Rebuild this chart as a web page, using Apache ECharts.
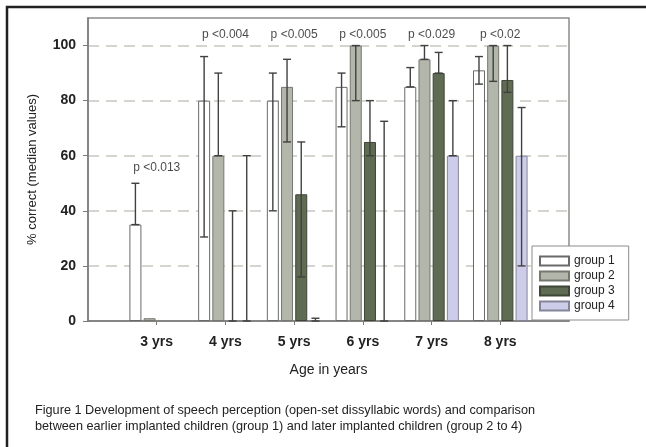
<!DOCTYPE html>
<html>
<head>
<meta charset="utf-8">
<script src="https://cdn.jsdelivr.net/npm/echarts@6/dist/echarts.min.js"></script>
<style>
html,body{margin:0;padding:0;background:#fff;}
#chart{width:646px;height:447px;}
</style>
</head>
<body>
<div id="chart"></div>
<script>
// ---- data ----
const categories = ['3 yrs', '4 yrs', '5 yrs', '6 yrs', '7 yrs', '8 yrs'];
const groupNames = ['group 1', 'group 2', 'group 3', 'group 4'];
// medians (null = no bar)
const g1Median = [35, 80, 80, 85, 85, 91];
const g2Median = [1, 60, 85, 100, 95, 100];
const g3Median = [null, null, 46, 65, 90, 87.5];
const g4Median = [null, null, null, null, 60, 60];
// error range lows / highs (null = no error bar)
const g1Low  = [35, 30.5, 40, 70.5, 85, 86];
const g1High = [50, 96, 90, 90, 92, 96];
const g2Low  = [null, 60, 65, 80, 95, 87];
const g2High = [null, 90, 95, 100, 100, 100];
const g3Low  = [null, 0, 16, 60, 90, 83];
const g3High = [null, 40, 65, 80, 97.5, 100];
const g4Low  = [null, 0, 0, 0, 60, 20];
const g4High = [null, 60, 1, 72.5, 80, 77.5];
const pLabels = ['p <0.013', 'p <0.004', 'p <0.005', 'p <0.005', 'p <0.029', 'p <0.02'];
const yTicks = [0, 20, 40, 60, 80, 100];

// ---- build ----
const medians = [g1Median, g2Median, g3Median, g4Median];
const lows = [g1Low, g2Low, g3Low, g4Low];
const highs = [g1High, g2High, g3High, g4High];
const fills = ['#ffffff', '#b3b7ab', '#5f6b53', '#cdcdea'];
const borders = ['#6a6a6a', '#75786f', '#3e4636', '#85859a'];
const xCats = [''].concat(categories, ['']);
const BAR_W = 12, GAP = 2.2;
const step = BAR_W + GAP;
const total = 4 * BAR_W + 3 * GAP;

const series = [];
groupNames.forEach((name, gi) => {
  series.push({
    name: name,
    type: 'bar',
    barWidth: BAR_W,
    barGap: (GAP / BAR_W * 100) + '%',
    itemStyle: { color: fills[gi], borderColor: borders[gi], borderWidth: 1 },
    data: [null].concat(medians[gi], [null]),
    z: 2
  });
});
groupNames.forEach((name, gi) => {
  const data = [];
  categories.forEach((c, i) => {
    if (lows[gi][i] != null && highs[gi][i] != null && highs[gi][i] > lows[gi][i]) {
      data.push([i + 1, lows[gi][i], highs[gi][i]]);
    }
  });
  const offset = -total / 2 + BAR_W / 2 + gi * step;
  series.push({
    type: 'custom',
    name: name + ' err',
    z: 5,
    silent: true,
    legendHoverLink: false,
    data: data,
    encode: { x: 0, y: [1, 2] },
    renderItem: function (params, api) {
      const cx = api.coord([api.value(0), 0])[0] + offset;
      const yl = api.coord([api.value(0), api.value(1)])[1];
      const yh = api.coord([api.value(0), api.value(2)])[1];
      const st = { stroke: '#404040', lineWidth: 1.4 };
      const cap = 4;
      return {
        type: 'group',
        children: [
          { type: 'line', shape: { x1: cx, y1: yl, x2: cx, y2: yh }, style: st },
          { type: 'line', shape: { x1: cx - cap, y1: yh, x2: cx + cap, y2: yh }, style: st },
          { type: 'line', shape: { x1: cx - cap, y1: yl, x2: cx + cap, y2: yl }, style: st }
        ]
      };
    }
  });
});
// p-value labels placed above each cluster
const pData = categories.map((c, i) => {
  const mx = Math.max.apply(null, highs.map(h => h[i] == null ? 0 : h[i]));
  const y = mx >= 90 ? 104 : mx + 5.5;
  return { value: [i + 1, y], name: pLabels[i] };
});
series.push({
  type: 'scatter',
  symbolSize: 0,
  silent: true,
  z: 6,
  data: pData,
  label: {
    show: true,
    position: 'inside',
    formatter: p => p.name,
    color: '#1a1a1a',
    fontSize: 12,
    fontFamily: 'Liberation Sans, Arial, sans-serif'
  }
});

const chart = echarts.init(document.getElementById('chart'), null, { renderer: 'canvas' });
chart.setOption({
  backgroundColor: '#ffffff',
  animation: false,
  textStyle: { fontFamily: 'Liberation Sans, Arial, sans-serif' },
  grid: { left: 88, right: 77, top: 18, bottom: 126, show: true, borderColor: '#8c8c8c', borderWidth: 1.5, backgroundColor: 'transparent' },
  legend: {
    orient: 'vertical',
    left: 532,
    top: 246,
    data: groupNames,
    icon: 'rect',
    itemWidth: 29,
    itemHeight: 9,
    itemGap: 3,
    padding: [9, 14, 8, 7],
    backgroundColor: '#ffffff',
    borderColor: '#8c8c8c',
    borderWidth: 1,
    textStyle: { fontSize: 12, color: '#222' },
    selectedMode: false,
    z: 10
  },
  xAxis: {
    type: 'category',
    data: xCats,
    boundaryGap: false,
    name: 'Age in years',
    nameLocation: 'middle',
    nameGap: 42,
    nameTextStyle: { fontSize: 14, color: '#222' },
    axisLine: { lineStyle: { color: '#7a7a7a', width: 1.5 } },
    axisTick: { show: true, length: 4, interval: function (i) { return i > 0 && i < xCats.length - 1; }, lineStyle: { color: '#7a7a7a' } },
    axisLabel: { interval: 0, margin: 14, fontSize: 14, fontWeight: 'bold', color: '#222' },
    splitLine: { show: false }
  },
  yAxis: {
    type: 'value',
    min: 0,
    max: 110,
    interval: 20,
    name: '% correct (median values)',
    nameLocation: 'middle',
    nameGap: 49,
    nameTextStyle: { fontSize: 13, color: '#222' },
    axisLine: { show: true, lineStyle: { color: '#7a7a7a', width: 1.5 } },
    axisTick: { show: true, length: 5, customValues: yTicks, lineStyle: { color: '#7a7a7a' } },
    axisLabel: { customValues: yTicks, margin: 12, fontSize: 14, fontWeight: 'bold', color: '#222',
      formatter: v => (v > 100 ? '' : String(v)) },
    splitLine: { show: true, showMinLine: false, showMaxLine: true, lineStyle: { color: '#c6c8c0', width: 1.5, type: [11, 7] } }
  },
  graphic: [
    { type: 'rect', z: 100, silent: true, shape: { x: 7, y: 7, width: 700, height: 500 }, style: { fill: 'none', stroke: '#222', lineWidth: 2.5 } },
    { type: 'text', z: 100, left: 35, top: 402, style: {
      text: 'Figure 1 Development of speech perception (open-set dissyllabic words) and comparison\nbetween earlier implanted children (group 1) and later implanted children (group 2 to 4)',
      font: '12.7px Liberation Sans, Arial, sans-serif', fill: '#222', lineHeight: 16 } }
  ],
  series: series
});
</script>
</body>
</html>
